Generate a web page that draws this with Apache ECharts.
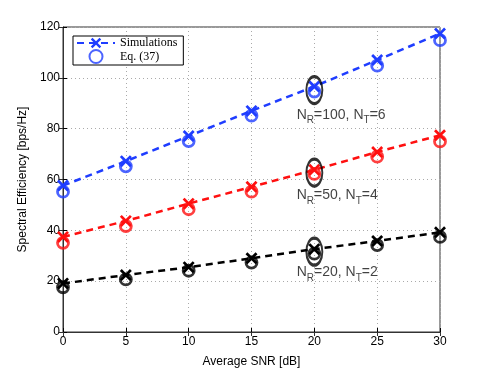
<!DOCTYPE html>
<html>
<head>
    <meta charset="utf-8">
    <title>Spectral efficiency</title>
    <script src="https://cdn.jsdelivr.net/npm/echarts@6/dist/echarts.min.js"></script>
</head>
<body style="margin:0">
    <div id="main" style="width:485px;height:374px;"></div>
    <script type="text/javascript">
        // data
        var snr = [0, 5, 10, 15, 20, 25, 30];
        var simR100 = [57.6, 67.2, 77.1, 87.0, 96.6, 107.0, 117.4];
        var eqR100  = [55.2, 65.2, 75.1, 85.1, 94.6, 104.8, 114.8];
        var simR50  = [37.4, 43.7, 50.5, 57.1, 63.8, 70.8, 77.4];
        var eqR50   = [35.1, 41.7, 48.3, 55.2, 62.2, 69.0, 75.0];
        var simR20  = [19.1, 22.4, 25.5, 29.0, 32.6, 35.8, 39.2];
        var eqR20   = [17.6, 20.7, 24.1, 27.3, 30.8, 34.2, 37.4];
        var xTicks = [0, 5, 10, 15, 20, 25, 30];
        var ellipses = [[20, 95.2], [20, 62.7], [20, 31.6]];
        var notes = [
            [18.6, 85.5, '{n|N}{s|R}{n|=100, N}{s|T}{n|=6}'],
            [18.6, 53.7, '{n|N}{s|R}{n|=50, N}{s|T}{n|=4}'],
            [18.6, 23.4, '{n|N}{s|R}{n|=20, N}{s|T}{n|=2}']
        ];

        var crossPath = 'path://M0,1.6L1.6,0L5,3.4L8.4,0L10,1.6L6.6,5L10,8.4L8.4,10L5,6.6L1.6,10L0,8.4L3.4,5Z';

        function pairs(ys) {
            return snr.map(function (x, i) { return [x, ys[i]]; });
        }
        function simSeries(name, ys, color) {
            return {
                name: name, type: 'line', data: pairs(ys),
                symbol: crossPath, symbolSize: 12, clip: false,
                itemStyle: {color: color},
                lineStyle: {color: color, width: 2.5, type: [7, 5]},
                z: 3
            };
        }
        function eqSeries(name, ys, color) {
            return {
                name: name, type: 'scatter', data: pairs(ys),
                symbol: 'circle', symbolSize: 11, clip: false,
                itemStyle: {color: 'rgba(0,0,0,0)', borderColor: color, borderWidth: 2.8},
                z: 4
            };
        }

        var myChart = echarts.init(document.getElementById('main'));
        var font = 'Liberation Sans, Arial, sans-serif';

        var option = {
            animation: false,
            backgroundColor: '#fff',
            grid: {left: 63, top: 27, right: 45, bottom: 42, show: true, borderColor: '#333', borderWidth: 1},
            legend: {
                left: 73, top: 36, orient: 'vertical', itemGap: 0,
                padding: [1, 6, 1, 3],
                borderColor: '#000', borderWidth: 1, backgroundColor: '#fff',
                itemWidth: 38, itemHeight: 13,
                textStyle: {fontFamily: 'Liberation Serif, Times New Roman, serif', fontSize: 12, color: '#000'},
                data: ['Simulations', 'Eq. (37)']
            },
            xAxis: [{
                type: 'value', min: 0, max: 30, interval: 5,
                name: 'Average SNR [dB]', nameLocation: 'middle', nameGap: 24,
                nameTextStyle: {fontFamily: font, fontSize: 12, color: '#000'},
                axisLine: {lineStyle: {color: '#000'}},
                axisTick: {inside: true, length: 4, lineStyle: {color: '#000'}},
                axisLabel: {fontFamily: font, fontSize: 12, color: '#000', margin: 4,
                    customValues: xTicks},
                splitLine: {show: true, lineStyle: {color: '#aaa', type: [1, 3]}}
            }, {
                type: 'value', min: 0, max: 30, interval: 5, position: 'top',
                axisLine: {lineStyle: {color: '#333'}},
                axisTick: {inside: true, length: 4},
                axisLabel: {show: false}, splitLine: {show: false}
            }],
            yAxis: [{
                type: 'value', min: 0, max: 120, interval: 20,
                name: 'Spectral Efficiency [bps/Hz]', nameLocation: 'middle', nameGap: 29,
                nameTextStyle: {fontFamily: font, fontSize: 12, color: '#000'},
                axisLine: {show: true, lineStyle: {color: '#777'}},
                axisTick: {show: true, inside: true, length: 4, lineStyle: {color: '#000'}},
                axisLabel: {fontFamily: font, fontSize: 12, color: '#000', margin: 3},
                splitLine: {show: true, lineStyle: {color: '#aaa', type: [1, 3]}}
            }, {
                type: 'value', min: 0, max: 120, interval: 20, position: 'right',
                axisLine: {show: true, lineStyle: {color: '#333'}},
                axisTick: {show: true, inside: true, length: 4},
                axisLabel: {show: false}, splitLine: {show: false}
            }],
            series: [
                simSeries('Simulations', simR100, '#1f3dff'),
                eqSeries('Eq. (37)', eqR100, '#1f3dff'),
                simSeries('sim50', simR50, '#ff1010'),
                eqSeries('eq50', eqR50, '#ff1010'),
                simSeries('sim20', simR20, '#000'),
                eqSeries('eq20', eqR20, '#000'),
                {
                    name: 'ellipses', type: 'scatter', data: ellipses,
                    symbol: 'circle', symbolSize: [16, 27], clip: false,
                    itemStyle: {color: 'rgba(0,0,0,0)', borderColor: '#000', borderWidth: 2.5},
                    z: 5
                },
                {
                    name: 'notes', type: 'scatter', symbolSize: 0, z: 6,
                    data: notes.map(function (n) { return {value: [n[0], n[1]], note: n[2]}; }),
                    label: {
                        show: true, position: 'right', distance: 0,
                        formatter: function (p) { return p.data.note; },
                        rich: {
                            n: {fontFamily: font, fontSize: 14, color: '#111'},
                            s: {fontFamily: font, fontSize: 10, color: '#111', padding: [12, 0, 0, 0]}
                        }
                    }
                }
            ]
        };
        myChart.setOption(option);
    </script>
</body>
</html>
